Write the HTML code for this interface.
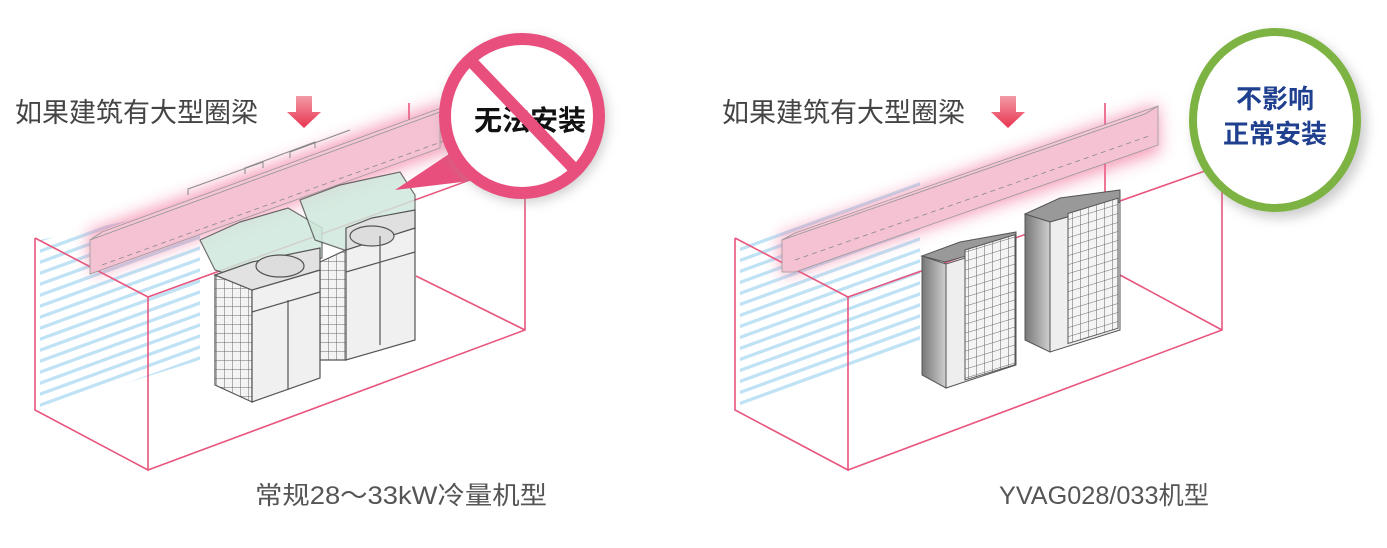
<!DOCTYPE html>
<html><head><meta charset="utf-8"><style>
body{margin:0;background:#fff;width:1387px;height:548px;overflow:hidden}
svg{display:block}
text{font-family:"Liberation Sans","Noto Sans CJK SC",sans-serif}
</style></head><body>
<svg width="1387" height="548" viewBox="0 0 1387 548" xmlns="http://www.w3.org/2000/svg">
<defs>
<filter id="blur" x="-20%" y="-50%" width="140%" height="200%"><feGaussianBlur stdDeviation="8"/></filter>
<filter id="sh" x="-30%" y="-30%" width="160%" height="160%"><feGaussianBlur stdDeviation="6"/></filter>
<linearGradient id="ar" x1="0" y1="0" x2="0" y2="1"><stop offset="0" stop-color="#f39aa6"/><stop offset="1" stop-color="#e8344f"/></linearGradient>
<linearGradient id="cab" x1="0" y1="0" x2="1" y2="0"><stop offset="0" stop-color="#777"/><stop offset="1" stop-color="#cfcfcf"/></linearGradient>
<pattern id="grid" width="8" height="9" patternUnits="userSpaceOnUse"><rect width="8" height="9" fill="#f4f4f4"/><path d="M0 0H8M0 0V9" stroke="#666" stroke-width="1"/></pattern>
<pattern id="stripes" width="10" height="11" patternUnits="userSpaceOnUse" patternTransform="skewY(-20)"><rect width="10" height="11" fill="none"/><rect y="0" width="10" height="3.5" fill="#b8e0f4"/></pattern>
</defs>

<!-- ========== LEFT ========== -->
<text x="15" y="122" font-size="27" fill="#444">如果建筑有大型圈梁</text>
<path d="M296 96h16v16h9l-17 16-17-16h9z" fill="url(#ar)"/>

<polygon points="40,240 200,205 200,360 40,410" fill="url(#stripes)" opacity="0.9"/>
<g stroke="#e8557d" stroke-width="1.6" fill="none">
<path d="M35 238V410L148 470V297L35 238"/>
<path d="M148 297L525 160M148 470L525 330V160"/>
<path d="M416 276L525 330"/>
<path d="M409 103V120"/>
</g>
<polygon points="88,232 445,102 452,150 92,274" fill="#f06a94" opacity="0.65" filter="url(#blur)"/>
<polygon points="90,240 102,232 452,104 440,112" fill="#f7c6d6" stroke="#999" stroke-width="0.8"/>
<polygon points="90,240 440,112 440,148 90,274" fill="#f5c2d3" stroke="#999" stroke-width="0.8"/>
<path d="M102 265L452 138" stroke="#888" stroke-dasharray="5 4" stroke-width="0.8"/>
<g fill="none" stroke="#888" stroke-width="1"><path d="M188 195l0-6 75-27 0 6M245 174l0-6 70-26 0 6M290 158l0-6 60-22"/></g>

<g stroke="#555" stroke-width="1.2">
<polygon points="200,240 240,222 288,208 322,228 322,258 252,282 215,270" fill="#cfe8dc" opacity="0.85"/>
<polygon points="300,200 340,185 400,172 415,195 415,230 350,252 315,240" fill="#cfe8dc" opacity="0.85"/>
<polygon points="320,262 346,250 346,360 320,360" fill="url(#grid)"/>
<polygon points="346,248 415,228 415,340 346,360" fill="#f0f0f0"/>
<polygon points="346,228 372,218 415,210 415,228 346,250" fill="#e0e0e0"/>
<ellipse cx="372" cy="236" rx="22" ry="10" fill="#ddd"/>
<path d="M380 236V345M346 272L415 252" fill="none"/>
<polygon points="215,275 252,290 252,402 215,385" fill="url(#grid)"/>
<polygon points="252,290 320,270 320,378 252,402" fill="#f0f0f0"/>
<polygon points="215,275 252,262 320,248 320,270 252,290" fill="#e2e2e2"/>
<ellipse cx="280" cy="266" rx="24" ry="11" fill="#ddd"/>
<path d="M288 300V390M252 312L320 292" fill="none"/>
</g>

<polygon points="395,190 470,140 520,175" fill="#e84f7c"/>
<circle cx="525" cy="120" r="82" fill="#999" opacity="0.5" filter="url(#sh)"/>
<circle cx="522" cy="116" r="77" fill="#fff" stroke="#e84f7c" stroke-width="12"/>
<text x="530" y="130" font-size="28" font-weight="bold" fill="#111" text-anchor="middle">无法安装</text>
<line x1="470" y1="60" x2="580" y2="175" stroke="#e84f7c" stroke-width="12"/>

<text x="401" y="504" font-size="25" fill="#555" text-anchor="middle" textLength="292" lengthAdjust="spacingAndGlyphs">常规28～33kW冷量机型</text>

<!-- ========== RIGHT ========== -->
<text x="722" y="122" font-size="27" fill="#444">如果建筑有大型圈梁</text>
<path d="M1000 96h16v16h9l-17 16-17-16h9z" fill="url(#ar)"/>

<polygon points="740,240 920,180 920,340 740,410" fill="url(#stripes)" opacity="0.9"/>
<g stroke="#e8557d" stroke-width="1.6" fill="none">
<path d="M735 238V410L848 470V297L735 238"/>
<path d="M848 297L1222 165M848 470L1222 330V190"/>
<path d="M1120 275L1222 330"/>
<path d="M1105 103V275"/>
</g>
<polygon points="780,236 1158,104 1160,152 782,276" fill="#f06a94" opacity="0.65" filter="url(#blur)"/>
<polygon points="782,240 795,233 1158,106 1145,114" fill="#f7c6d6" stroke="#999" stroke-width="0.8"/>
<polygon points="782,240 1145,114 1158,106 1158,145 795,272 782,272" fill="#f5c2d3" stroke="#999" stroke-width="0.8"/>
<path d="M795 260L1152 135" stroke="#888" stroke-dasharray="5 4" stroke-width="0.8"/>

<g stroke="#555" stroke-width="1">
<polygon points="922,256 960,242 1016,232 1016,242 945,262" fill="#999"/>
<polygon points="922,256 946,264 946,388 922,375" fill="url(#cab)"/>
<polygon points="946,264 1016,242 1016,365 946,388" fill="#eee"/>
<rect x="965" y="250" width="50" height="130" fill="url(#grid)" transform="skewY(-17) translate(0,295)"/>
<polygon points="1025,214 1060,198 1120,190 1120,202 1050,222" fill="#999"/>
<polygon points="1025,214 1050,222 1050,352 1025,340" fill="url(#cab)"/>
<polygon points="1050,222 1120,202 1120,330 1050,352" fill="#eee"/>
<rect x="1068" y="210" width="50" height="130" fill="url(#grid)" transform="skewY(-17) translate(0,330)"/>
</g>

<ellipse cx="1280" cy="126" rx="86" ry="92" fill="#999" opacity="0.5" filter="url(#sh)"/>
<ellipse cx="1275" cy="120" rx="82" ry="88" fill="#fff" stroke="#7cb342" stroke-width="8"/>
<text x="1275" y="108" font-size="26" font-weight="bold" fill="#1f3f8f" text-anchor="middle">不影响</text>
<text x="1275" y="143" font-size="26" font-weight="bold" fill="#1f3f8f" text-anchor="middle">正常安装</text>

<text x="1104" y="504" font-size="25" fill="#555" text-anchor="middle" textLength="210" lengthAdjust="spacingAndGlyphs">YVAG028/033机型</text>
</svg>
</body></html>
